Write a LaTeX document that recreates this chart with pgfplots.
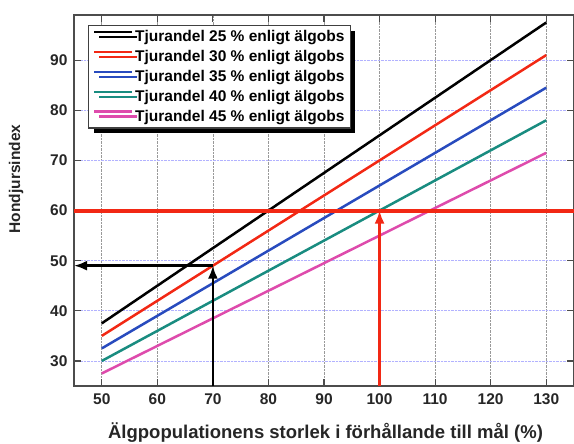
\documentclass[border=0pt]{standalone}
\usepackage{fontspec}
\setmainfont{Liberation Sans}
\usepackage{pgfplots}
\pgfplotsset{compat=1.18}
\usetikzlibrary{shadows,arrows.meta,calc}
\definecolor{cred}{RGB}{242,40,20}
\definecolor{cblue}{RGB}{40,75,190}
\definecolor{cteal}{RGB}{25,140,128}
\definecolor{cpink}{RGB}{222,75,172}
\begin{document}
\begin{tikzpicture}
\begin{axis}[
  scale only axis, width=500pt, height=371pt,
  xmin=45, xmax=135, ymin=25, ymax=99,
  xtick={50,60,...,130}, ytick={30,40,...,90},
  tick align=inside, major tick length=7pt,
  tick style={line width=1.2pt, black!70},
  axis line style={line width=1.8pt, black!70},
  xmajorgrids, ymajorgrids,
  major x grid style={densely dotted, gray!80, line width=0.7pt},
  major y grid style={densely dotted, blue!30, line width=0.7pt},
  /pgf/number format/assume math mode=true,
  tick label style={font=\fontsize{15.5}{17}\selectfont\bfseries, black!85},
  yticklabel style={xshift=-3pt},
  xticklabel style={yshift=-4pt},
  xlabel={Älgpopulationens storlek i förhållande till mål (\%)},
  ylabel={Hondjursindex},
  every axis x label/.style={at={(axis description cs:0.503,0)}, anchor=base, yshift=-52.5pt,
    font=\fontsize{18.5}{21}\selectfont\bfseries, text=black!85},
  every axis y label/.style={at={(axis description cs:-0.116,0.558)}, anchor=center, rotate=90,
    font=\fontsize{15.5}{18}\selectfont\bfseries, text=black!85},
  legend style={at={(axis description cs:0.028,0.973)}, anchor=north west, draw=black!75, line width=1.2pt,
    fill=white, font=\fontsize{15.5}{17}\selectfont\bfseries,
    drop shadow={shadow xshift=5pt, shadow yshift=-5pt, opacity=1, fill=black},
    row sep=3.2pt, inner xsep=4.5pt, inner ysep=3pt, cells={anchor=west},
    nodes={inner xsep=1.5pt, inner ysep=2pt}},
  legend image code/.code={\draw[#1, line width=2.5pt] (0pt,5pt) -- (38pt,5pt);},
  every axis plot/.append style={line width=2.5pt},
  clip=true,
]
\addplot[black] coordinates {(50,37.5) (130,97.5)};
\addlegendentry{Tjurandel 25 \% enligt älgobs}
\addplot[cred] coordinates {(50,35) (130,91)};
\addlegendentry{Tjurandel 30 \% enligt älgobs}
\addplot[cblue] coordinates {(50,32.5) (130,84.5)};
\addlegendentry{Tjurandel 35 \% enligt älgobs}
\addplot[cteal] coordinates {(50,30) (130,78)};
\addlegendentry{Tjurandel 40 \% enligt älgobs}
\addplot[cpink] coordinates {(50,27.5) (130,71.5)};
\addlegendentry{Tjurandel 45 \% enligt älgobs}
\addplot[cred, line width=4pt, forget plot] coordinates {(45,60) (135,60)};
\addplot[cred, line width=2.5pt, -{Latex[length=13pt,width=10pt]}, forget plot] coordinates {(100,25) (100,60)};
\addplot[black, line width=2.5pt, -{Latex[length=13pt,width=10pt]}, forget plot] coordinates {(70,25) (70,49)};
\addplot[black, line width=2.5pt, -{Latex[length=13pt,width=10pt]}, forget plot] coordinates {(70,49) (45,49)};
\end{axis}
\pgfresetboundingbox
\useasboundingbox ($(current axis.south west)+(-74pt,-57pt)$) rectangle ($(current axis.north east)+(0pt,15pt)$);
\end{tikzpicture}
\end{document}
